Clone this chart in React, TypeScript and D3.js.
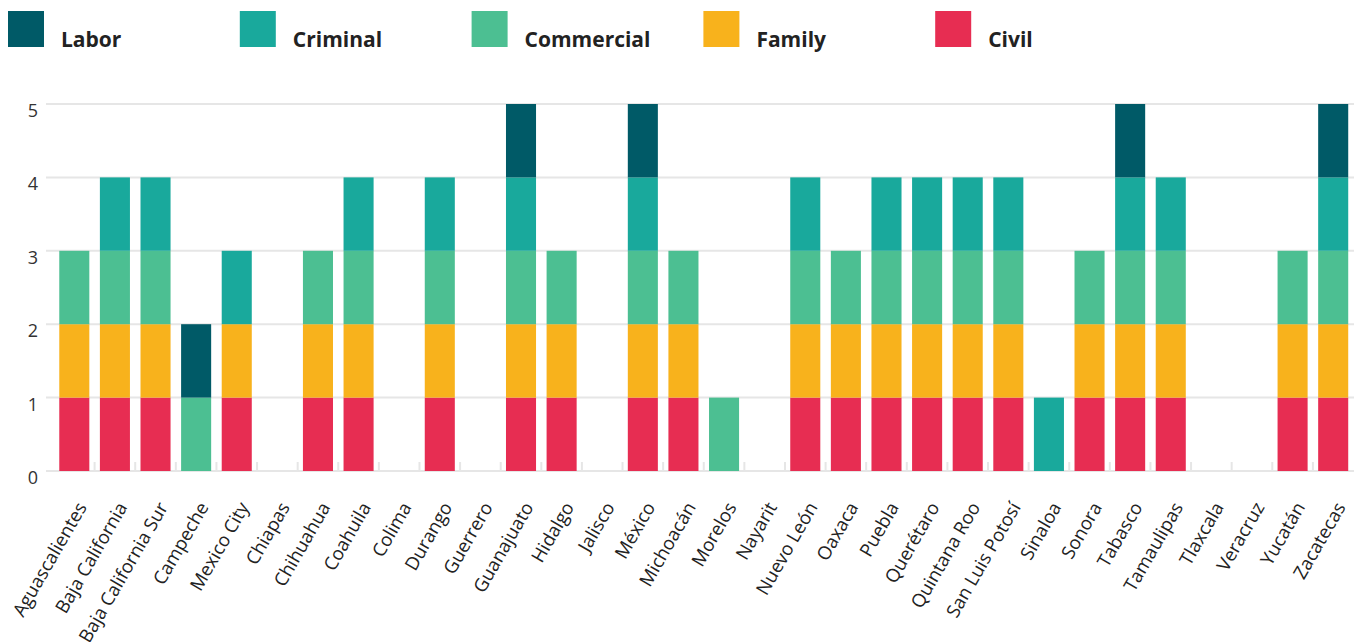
import React from "react";
import * as d3 from "d3";

const states = ["Aguascalientes","Baja California","Baja California Sur","Campeche","Mexico City","Chiapas","Chihuahua","Coahuila","Colima","Durango","Guerrero","Guanajuato","Hidalgo","Jalisco","México","Michoacán","Morelos","Nayarit","Nuevo León","Oaxaca","Puebla","Querétaro","Quintana Roo","San Luis Potosí","Sinaloa","Sonora","Tabasco","Tamaulipas","Tlaxcala","Veracruz","Yucatán","Zacatecas"];
const civil =      [1,1,1,0,1,0,1,1,0,1,0,1,1,0,1,1,0,0,1,1,1,1,1,1,0,1,1,1,0,0,1,1];
const family =     [1,1,1,0,1,0,1,1,0,1,0,1,1,0,1,1,0,0,1,1,1,1,1,1,0,1,1,1,0,0,1,1];
const commercial = [1,1,1,1,0,0,1,1,0,1,0,1,1,0,1,1,1,0,1,1,1,1,1,1,0,1,1,1,0,0,1,1];
const criminal =   [0,1,1,0,1,0,0,1,0,1,0,1,0,0,1,0,0,0,1,0,1,1,1,1,1,0,1,1,0,0,0,1];
const labor =      [0,0,0,1,0,0,0,0,0,0,0,1,0,0,1,0,0,0,0,0,0,0,0,0,0,0,1,0,0,0,0,1];
const seriesKeys = ["Civil","Family","Commercial","Criminal","Labor"];
const seriesColors = ["#e72d52","#f8b21c","#4cbf92","#19a99c","#005a67"];
const legendOrder = ["Labor","Criminal","Commercial","Family","Civil"];
const yTicks = [0,1,2,3,4,5];

const rows = states.map((s, i) => ({ state: s, Civil: civil[i], Family: family[i], Commercial: commercial[i], Criminal: criminal[i], Labor: labor[i] }));

export default function App() {
  const W = 1354, H = 642;
  const x = d3.scaleBand<string>().domain(states).range([54, 1353.5]).paddingInner(0.26).paddingOuter(0.13);
  const y = d3.scaleLinear().domain([0, 5]).range([471, 104]);
  const stack = d3.stack<any>().keys(seriesKeys)(rows);
  const color = d3.scaleOrdinal<string, string>().domain(seriesKeys).range(seriesColors);
  const step = x.step();
  const font = "'Open Sans', sans-serif";
  return (
    <svg width={W} height={H} style={{ position: "absolute", left: 0, top: 0, background: "#fff" }}>
      {legendOrder.map((k, i) => (
        <g key={k} transform={`translate(${8 + i * 231.8},11)`}>
          <rect width={36} height={36} fill={color(k)} />
          <text x={53} y={36} fontFamily={font} fontWeight={700} fontSize={21} fill="#222">{k}</text>
        </g>
      ))}
      {yTicks.map(t => (
        <g key={t}>
          <line x1={46} x2={1354} y1={y(t)} y2={y(t)} stroke="#e6e6e6" strokeWidth={2} />
          <text x={38} y={y(t) + 13} textAnchor="end" fontFamily={font} fontSize={18} fill="#333">{t}</text>
        </g>
      ))}
      {states.slice(1).map(s => {
        const bx = (x(s) as number) - step * 0.13;
        return <line key={s} x1={bx} x2={bx} y1={y(0) - 9} y2={y(0)} stroke="#e6e6e6" strokeWidth={2} />;
      })}
      {stack.map(layer => (
        <g key={layer.key} fill={color(layer.key)}>
          {layer.map((d, i) => d[1] - d[0] > 0 ? (
            <rect key={i} x={x(states[i])} width={x.bandwidth()} y={y(d[1])} height={y(d[0]) - y(d[1])} />
          ) : null)}
        </g>
      ))}
      {states.map(s => {
        const cx = (x(s) as number) + x.bandwidth() / 2 + 13;
        return (
          <text key={s} transform={`translate(${cx},507) rotate(-60)`} textAnchor="end" fontFamily={font} fontSize={18.5} fill="#222">{s}</text>
        );
      })}
    </svg>
  );
}
